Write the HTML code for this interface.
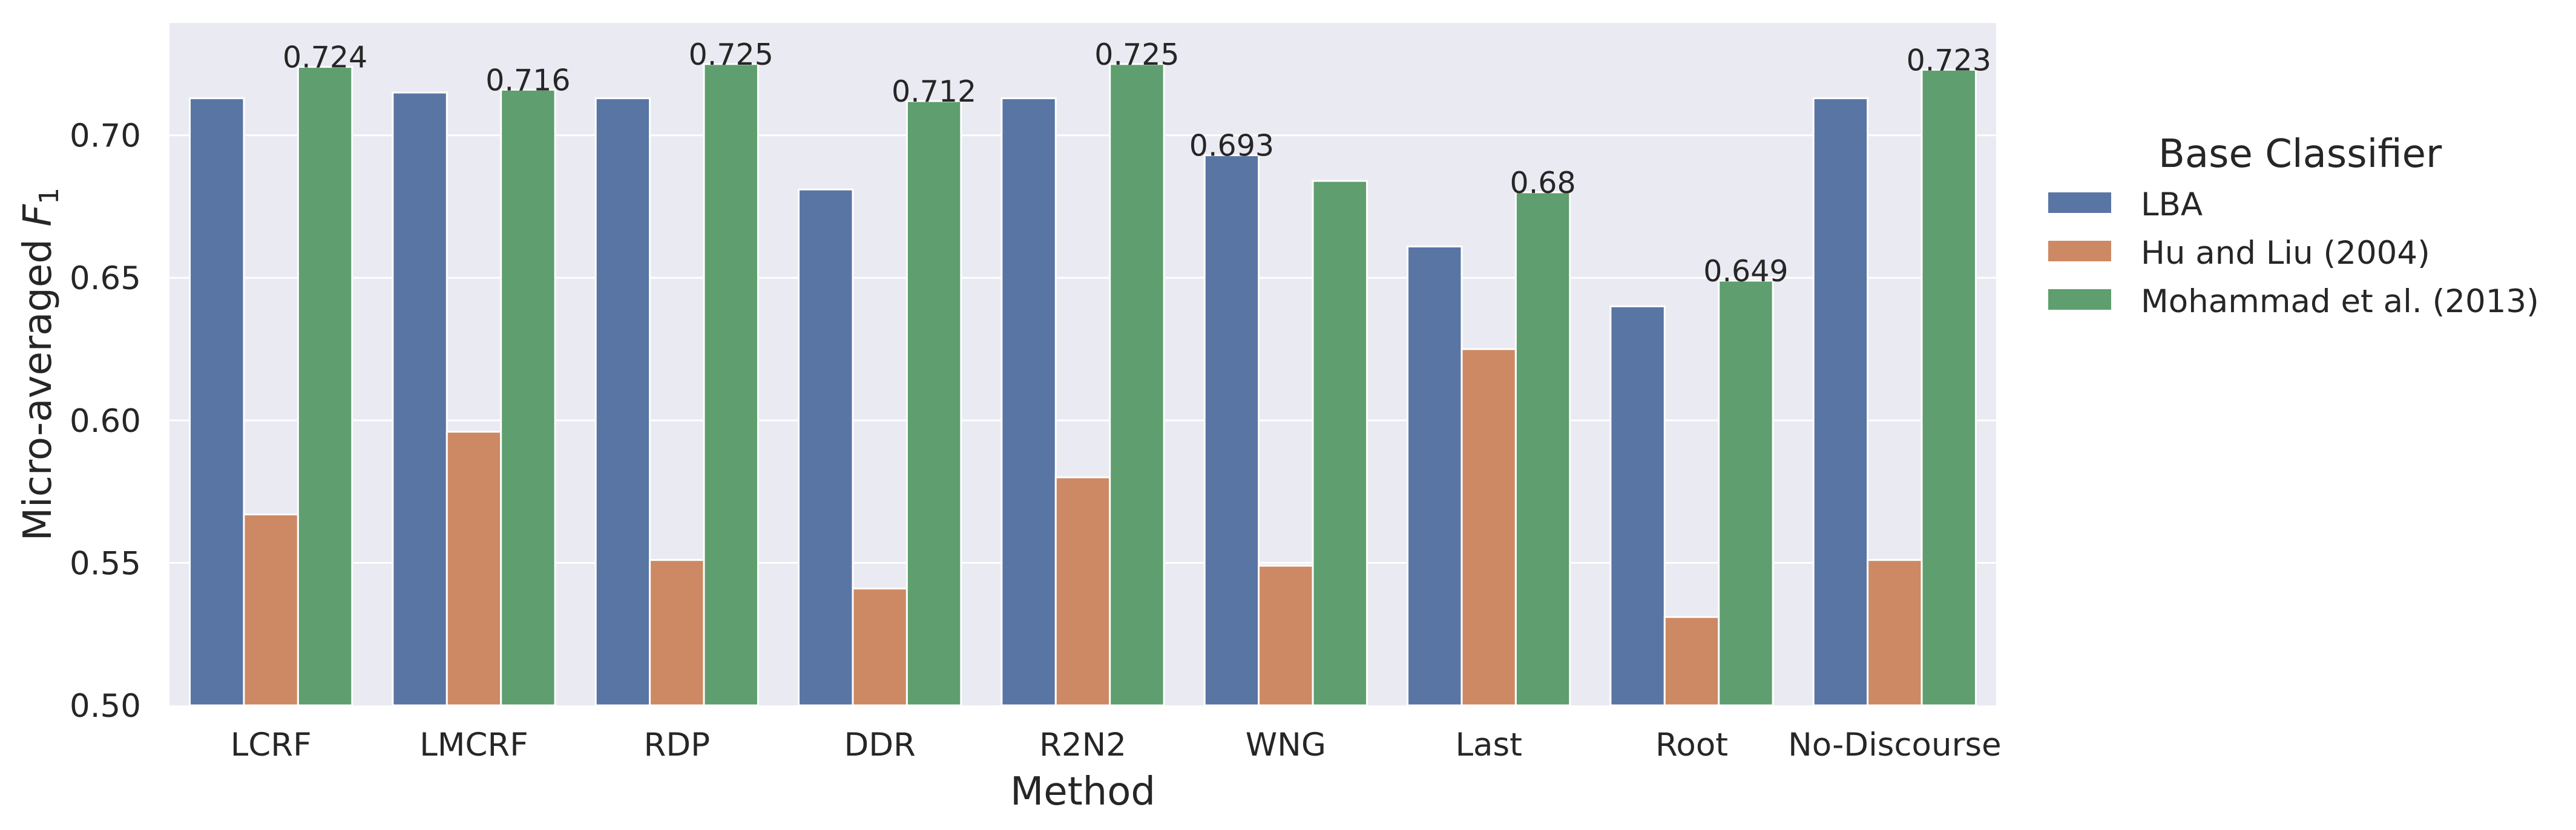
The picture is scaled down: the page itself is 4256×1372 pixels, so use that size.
<!DOCTYPE html>
<html><head><meta charset="utf-8"><style>
html,body{margin:0;padding:0;background:#fff;}
svg{display:block;font-family:"DejaVu Sans","Liberation Sans",sans-serif;}
</style></head><body>
<svg id="chart" width="4256" height="1372" viewBox="0 0 4256 1372">
<rect x="280" y="38" width="3018" height="1128" fill="#eaeaf2"/>
<g id="grid"></g><g id="bars"></g><g id="labels"></g>
<text x="84" y="602" transform="rotate(-90 84 602)" text-anchor="middle" font-size="64" fill="#262626">Micro-averaged <tspan font-style="italic">F</tspan><tspan font-size="44" dy="12">1</tspan></text>
<text x="1789" y="1330" text-anchor="middle" font-size="64" fill="#262626">Method</text>
<g id="legend">
<text x="3566" y="276" font-size="64" fill="#262626">Base Classifier</text>
</g>
</svg>
<script>
const categories = ["LCRF","LMCRF","RDP","DDR","R2N2","WNG","Last","Root","No-Discourse"];
const seriesNames = ["LBA","Hu and Liu (2004)","Mohammad et al. (2013)"];
const lbaValues = [0.713,0.715,0.713,0.681,0.713,0.693,0.661,0.640,0.713];
const huValues = [0.567,0.596,0.551,0.541,0.580,0.549,0.625,0.531,0.551];
const mohValues = [0.724,0.716,0.725,0.712,0.725,0.684,0.680,0.649,0.723];
const yTicks = [0.50,0.55,0.60,0.65,0.70];
const yTickLabels = ["0.50","0.55","0.60","0.65","0.70"];

const NS = "http://www.w3.org/2000/svg";
const colors = ["#5975a4","#cc8963","#5f9e6e"];
const L=280,R=3298,T=38,B=1166,yMin=0.5,yMax=0.7394;
const y = v => B - (v - yMin) / (yMax - yMin) * (B - T);
const band = (R - L) / categories.length;
const x = i => L + band * i;
const series = [lbaValues, huValues, mohValues];
function mk(tag, attrs, parent){const e=document.createElementNS(NS,tag);for(const k in attrs)e.setAttribute(k,attrs[k]);parent.appendChild(e);return e;}
const grid=document.getElementById('grid'), bars=document.getElementById('bars'), labels=document.getElementById('labels'), legend=document.getElementById('legend');
yTicks.forEach((t,i)=>{
  if(t>yMin){const g=mk('line',{x1:L,x2:R,y1:y(t),y2:y(t),stroke:'#fff','stroke-width':3},grid);
  
  }
  const tx=mk('text',{x:233,y:y(t)+19,'text-anchor':'end','font-size':53,fill:'#262626'},labels);
  tx.textContent=yTickLabels[i];
  
  
});
const bw = band*0.8/3;
categories.forEach((c,i)=>{
  series.forEach((s,j)=>{
    const bx = x(i)+band*0.1+bw*j;
    const r=mk('rect',{x:bx,y:y(s[i]),width:bw,height:B-y(s[i]),fill:colors[j],stroke:'#fff','stroke-width':3},bars);
    
    
  });
  let best=0; for(let j=1;j<3;j++) if(series[j][i]>series[best][i]) best=j;
  const v=series[best][i];
  const a=mk('text',{x:x(i)+band*0.1+bw*(best+0.5),y:y(v)+1,'text-anchor':'middle','font-size':49,fill:'#262626'},labels);
  a.textContent=String(+v.toFixed(3));
  
  
  const t=mk('text',{x:x(i)+band/2,y:1249,'text-anchor':'middle','font-size':53,fill:'#262626'},labels);
  t.textContent=c;
  
  
});
seriesNames.forEach((n,j)=>{
  const p=mk('rect',{x:3384,y:318+80*j,width:104,height:34,fill:colors[j]},legend);
  
  
  const t=mk('text',{x:3537,y:356+80*j,'font-size':53,fill:'#262626'},legend);
  t.textContent=n;
  
  
});
</script>
</body></html>
